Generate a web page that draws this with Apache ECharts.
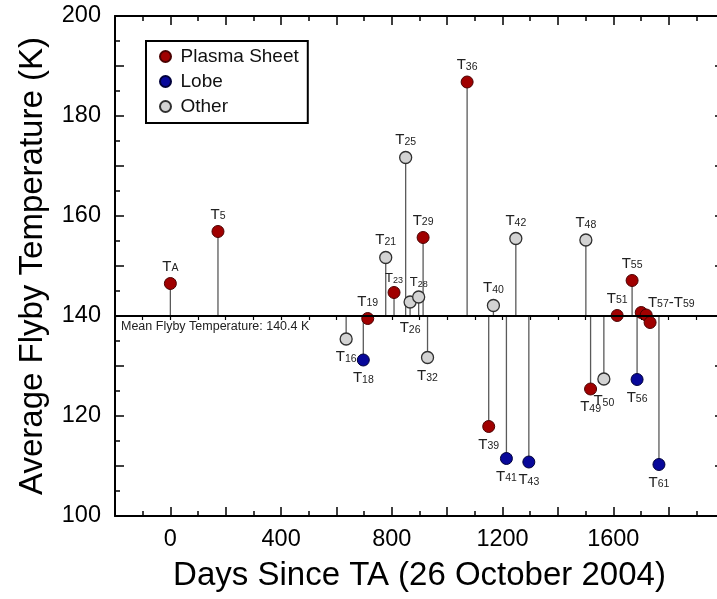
<!DOCTYPE html>
<html>
<head>
<meta charset="utf-8">
<script src="https://cdn.jsdelivr.net/npm/echarts@6/dist/echarts.min.js"></script>
<style>
  html, body { margin: 0; padding: 0; background: #fff; }
  #chart-container { width: 717px; height: 599px; }
</style>
</head>
<body>
<div id="chart-container"></div>
<script>
// flyby values: subscript name, days since TA, temperature (K)
var plasmaNames = ['A', '5', '19', '23', '29', '36', '39', '49', '51', '55', '57', '58', '59'];
var plasmaDays  = [0, 172, 713, 808, 913, 1072, 1150, 1518, 1614, 1668, 1701, 1719, 1733];
var plasmaTemps = [146.5, 156.9, 139.5, 144.7, 155.7, 186.8, 117.9, 125.4, 140.1, 147.1, 140.7, 140.2, 138.7];

var lobeNames = ['18', '41', '43', '56', '61'];
var lobeDays  = [697, 1214, 1295, 1686, 1765];
var lobeTemps = [131.2, 111.5, 110.8, 127.3, 110.3];

var otherNames = ['16', '21', '25', '26', '28', '32', '40', '42', '48', '50'];
var otherDays  = [635, 778, 850, 866, 897, 929, 1167, 1248, 1501, 1566];
var otherTemps = [135.4, 151.7, 171.7, 142.8, 143.8, 131.7, 142.1, 155.5, 155.2, 127.4];

var baseline = 140;
var meanText = 'Mean Flyby Temperature: 140.4 K';
var xTitle = 'Days Since TA (26 October 2004)';
var yTitle = 'Average Flyby Temperature (K)';

// label placement tweaks
var below = ['16', '18', '26', '32', '39', '41', '43', '49', '50', '56', '61'];
var small = ['23', '28'];
var hidden = ['58', '59'];

var font = 'Liberation Sans, Arial, sans-serif';
var yMin = 100, yMax = 200;
var gridTop = 16, gridBottom = 83;
var gridHeight = 599 - gridTop - gridBottom;

function labelFor(n) {
  if (hidden.indexOf(n) >= 0) return { show: false };
  if (n === '57') return { position: 'inside', offset: [30, -10], formatter: '{t|T}{s|57}{t|-T}{s|59}' };
  var l = {};
  if (below.indexOf(n) >= 0) {
    l.position = 'bottom';
    l.distance = n === '26' ? 12 : (n === '50' ? 8 : 4);
  } else {
    l.position = 'top';
    l.distance = small.indexOf(n) >= 0 ? 1 : 3;
  }
  if (small.indexOf(n) >= 0) l.formatter = '{ts|T}{ss|' + n + '}';
  return l;
}

function points(names, days, temps) {
  return names.map(function (n, i) {
    return { name: n, value: [days[i], temps[i]], label: labelFor(n) };
  });
}

var stemData = [];
[[plasmaDays, plasmaTemps], [lobeDays, lobeTemps], [otherDays, otherTemps]].forEach(function (g) {
  g[0].forEach(function (d, i) { stemData.push([d, g[1][i]]); });
});
// feet of the stems on the mean line (keeps the mean-line tick axis alive)
var footData = stemData.map(function (p) { return [p[0], baseline]; });

var richText = {
  t: { fontSize: 15, lineHeight: 15, verticalAlign: 'bottom', color: '#222', fontFamily: font },
  s: { fontSize: 10.5, lineHeight: 10.5, verticalAlign: 'bottom', color: '#222', fontFamily: font },
  ts: { fontSize: 13, lineHeight: 13, verticalAlign: 'bottom', color: '#222', fontFamily: font },
  ss: { fontSize: 9, lineHeight: 9, verticalAlign: 'bottom', color: '#222', fontFamily: font }
};

var pointLabel = {
  show: true,
  formatter: function (p) { return '{t|T}{s|' + p.name + '}'; },
  rich: richText
};

var dom = document.getElementById('chart-container');
var myChart = echarts.init(dom, null, { renderer: 'canvas' });

var axisLineStyle = { color: '#000', width: 2 };
var tickStyle = { color: '#000', width: 1.5 };

var option = {
  animation: false,
  textStyle: { fontFamily: font },
  grid: [
    { left: 115, right: -7, top: gridTop, bottom: gridBottom, outerBoundsMode: 'none' },
    // helper grid whose bottom edge sits on the mean line, to carry its ticks
    { left: 115, right: -7, top: gridTop, height: (yMax - baseline) / (yMax - yMin) * gridHeight, outerBoundsMode: 'none' }
  ],
  legend: {
    data: ['Plasma Sheet', 'Lobe', 'Other'],
    orient: 'vertical',
    left: 146,
    top: 41,
    itemWidth: 20,
    itemHeight: 11,
    itemGap: 4,
    padding: [5, 9, 6, 13],
    borderColor: '#000',
    borderWidth: 2,
    textStyle: { fontSize: 19, lineHeight: 21, color: '#111', fontFamily: font }
  },
  xAxis: [
    {
      type: 'value', min: -200, max: 2000, interval: 200, position: 'bottom',
      name: xTitle, nameLocation: 'middle', nameGap: 43,
      nameTextStyle: { fontSize: 33, color: '#000', fontFamily: font },
      axisLine: { onZero: false, lineStyle: axisLineStyle },
      axisTick: { inside: true, length: 9, lineStyle: tickStyle },
      minorTick: { show: true, splitNumber: 2, length: 5, lineStyle: tickStyle },
      axisLabel: {
        fontSize: 23.5, color: '#000', margin: 12, showMaxLabel: false,
        formatter: function (v) { return v % 400 === 0 ? String(v) : ''; }
      },
      splitLine: { show: false }
    },
    {
      type: 'value', min: -200, max: 2000, interval: 200, position: 'top',
      axisLine: { onZero: false, lineStyle: axisLineStyle },
      axisTick: { inside: true, length: 9, lineStyle: tickStyle },
      minorTick: { show: true, splitNumber: 2, length: 5, lineStyle: tickStyle },
      axisLabel: { show: false },
      splitLine: { show: false }
    },
    {
      // mean line with its small downward ticks
      gridIndex: 1,
      type: 'value', min: -200, max: 2000, interval: 200, position: 'bottom',
      axisLine: { show: true, onZero: false, lineStyle: axisLineStyle },
      axisTick: { show: true, inside: false, length: 4, lineStyle: { color: '#000', width: 1.2 } },
      minorTick: { show: true, splitNumber: 2, length: 4, lineStyle: { color: '#000', width: 1.2 } },
      axisLabel: { show: false },
      splitLine: { show: false }
    }
  ],
  yAxis: [
    {
      type: 'value', min: yMin, max: yMax, interval: 10, position: 'left',
      name: yTitle, nameLocation: 'middle', nameGap: 66,
      nameTextStyle: { fontSize: 33, color: '#000', fontFamily: font },
      axisLine: { onZero: false, lineStyle: axisLineStyle },
      axisTick: { inside: true, length: 9, lineStyle: tickStyle },
      minorTick: { show: true, splitNumber: 2, length: 5, lineStyle: tickStyle },
      axisLabel: {
        fontSize: 23.5, color: '#000', margin: 14,
        formatter: function (v) { return v % 20 === 0 ? String(v) : ''; }
      },
      splitLine: { show: false }
    },
    {
      type: 'value', min: yMin, max: yMax, interval: 10, position: 'right',
      axisLine: { onZero: false, lineStyle: axisLineStyle },
      axisTick: { inside: true, length: 9, lineStyle: tickStyle },
      minorTick: { show: true, splitNumber: 2, length: 5, lineStyle: tickStyle },
      axisLabel: { show: false },
      splitLine: { show: false }
    },
    {
      gridIndex: 1,
      type: 'value', min: baseline, max: yMax,
      axisLine: { show: false }, axisTick: { show: false }, axisLabel: { show: false }, splitLine: { show: false }
    }
  ],
  series: [
    {
      name: 'feet',
      type: 'scatter',
      xAxisIndex: 2,
      yAxisIndex: 2,
      symbolSize: 0,
      silent: true,
      itemStyle: { opacity: 0 },
      data: footData
    },
    {
      name: 'stems',
      type: 'custom',
      xAxisIndex: 0,
      yAxisIndex: 0,
      data: stemData,
      encode: { x: 0, y: 1 },
      silent: true,
      renderItem: function (params, api) {
        var tip = api.coord([api.value(0), api.value(1)]);
        var foot = api.coord([api.value(0), baseline]);
        return {
          type: 'line',
          shape: { x1: foot[0], y1: foot[1], x2: tip[0], y2: tip[1] },
          style: { stroke: '#5a5a5a', lineWidth: 1.3 }
        };
      },
      markLine: {
        silent: true,
        symbol: 'none',
        lineStyle: { color: '#000', width: 2, type: 'solid' },
        label: {
          position: 'insideStartBottom',
          formatter: meanText,
          fontSize: 12.5,
          color: '#222',
          distance: [6, 4]
        },
        data: [{ yAxis: baseline }]
      }
    },
    {
      name: 'Plasma Sheet',
      type: 'scatter',
      symbolSize: 12,
      itemStyle: { color: '#a00000', borderColor: '#4a0000', borderWidth: 1, opacity: 1 },
      label: pointLabel,
      data: points(plasmaNames, plasmaDays, plasmaTemps)
    },
    {
      name: 'Lobe',
      type: 'scatter',
      symbolSize: 12,
      itemStyle: { color: '#08089a', borderColor: '#00003a', borderWidth: 1, opacity: 1 },
      label: pointLabel,
      data: points(lobeNames, lobeDays, lobeTemps)
    },
    {
      name: 'Other',
      type: 'scatter',
      symbolSize: 12,
      itemStyle: { color: '#d3d3d3', borderColor: '#303030', borderWidth: 1.3, opacity: 1 },
      label: pointLabel,
      data: points(otherNames, otherDays, otherTemps)
    }
  ]
};

myChart.setOption(option);
window.addEventListener('resize', myChart.resize);
</script>
</body>
</html>
